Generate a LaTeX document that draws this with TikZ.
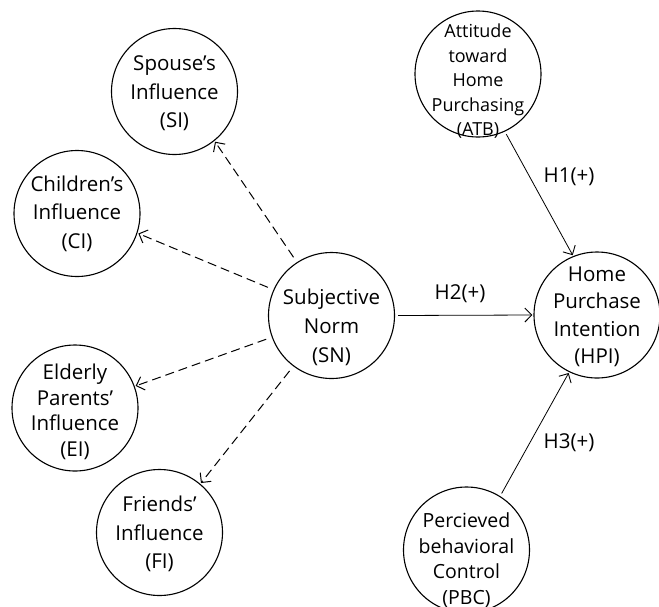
\documentclass[tikz,border=0pt]{standalone}
\usepackage{fontspec}
\setmainfont{Open Sans}
\usetikzlibrary{arrows.meta}
\newcommand{\circtext}[2][-7pt]{\smash{\raisebox{#1}{\begin{tabular}{@{}c@{}}#2\end{tabular}}}}
\begin{document}
\begin{tikzpicture}[x=1pt,y=-1pt,
  construct/.style={draw, circle, minimum size=126pt, inner sep=0pt, line width=1.1pt,
    font=\fontsize{20.5}{28.5}\selectfont},
  dep/.style={draw, line width=1pt, dash pattern=on 9pt off 5pt,
    -{Straight Barb[length=7pt,width=14pt,line width=1pt]}, shorten <=6pt, shorten >=1pt},
  hyp/.style={draw, line width=0.8pt,
    -{Straight Barb[length=7pt,width=14pt,line width=0.9pt]}, shorten <=3pt, shorten >=1pt},
  hlabel/.style={font=\fontsize{20.5}{24}\selectfont, inner sep=0pt}]
\useasboundingbox (0,0) rectangle (659,606);
\node[construct] (SI) at (174.5,91.5) {\circtext{Spouse’s\\Influence\\(SI)}};
\node[construct] (CI) at (77,213.5) {\circtext[-5.5pt]{Children’s\\Influence\\(CI)}};
\node[construct, font=\fontsize{20.5}{29}\selectfont] (SN) at (331.5,315.5) {\circtext[-17pt]{Subjective\\Norm\\(SN)}};
\node[construct, font=\fontsize{20.5}{25.5}\selectfont] (EI) at (75,408) {\circtext[-10pt]{Elderly\\Parents’\\Influence\\(EI)}};
\node[construct] (FI) at (159.5,532.5) {\circtext{Friends’\\Influence\\(FI)}};
\node[construct, font=\fontsize{18}{24.5}\selectfont] (ATB) at (478,74) {\circtext[-12pt]{Attitude\\toward\\Home\\Purchasing\\(ATB)}};
\node[construct, font=\fontsize{20.5}{27.5}\selectfont] (HPI) at (597,315) {\circtext[-7pt]{Home\\Purchase\\Intention\\(HPI)}};
\node[construct, font=\fontsize{19.5}{25.5}\selectfont] (PBC) at (466.5,550) {\circtext[-16pt]{Percieved\\behavioral\\Control\\(PBC)}};
\draw[dep] (SN.123.4) -- (SI.-51.3);
\draw[dep] (SN.156.8) -- (CI.-18.8);
\draw[dep] (SN.200) -- (EI.20);
\draw[dep] (SN.233.7) -- (FI.50.7);
\draw[hyp] (SN.0) -- (HPI.180);
\draw[hyp] (ATB.-65) -- (HPI.112);
\draw[hyp] (PBC.58.5) -- (HPI.-116);
\node[hlabel] (H1) at (569,177) {H1(+)};
\node[hlabel] (H2) at (460,294) {H2(+)};
\node[hlabel] (H3) at (569,443) {H3(+)};
\end{tikzpicture}
\end{document}
